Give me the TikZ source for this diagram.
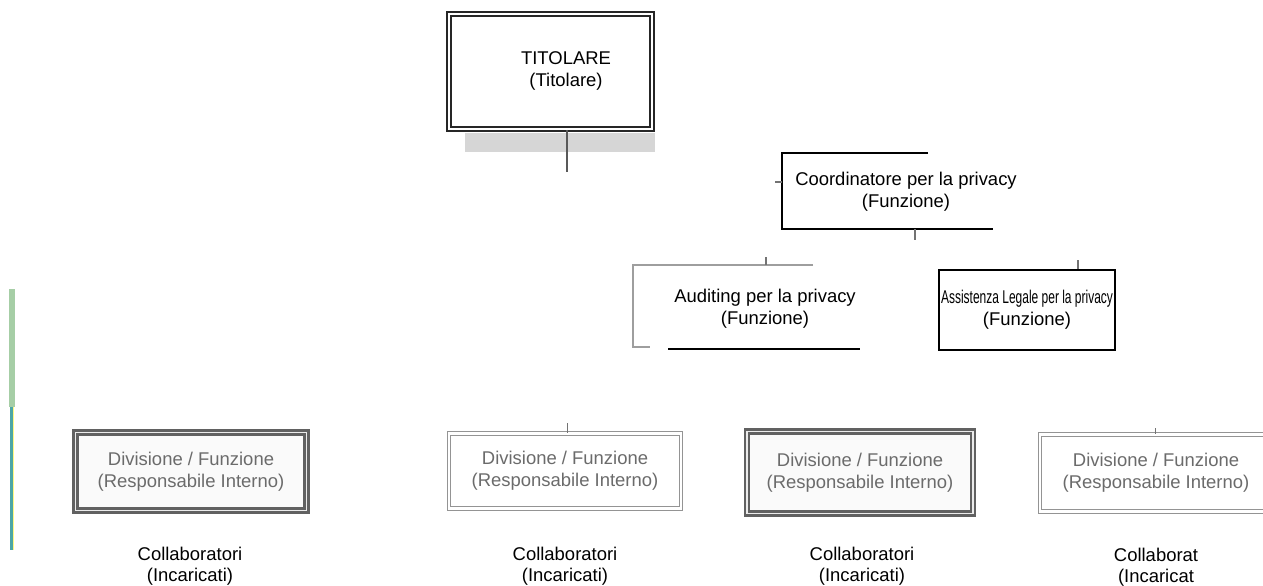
\documentclass[tikz,border=0pt]{standalone}
\usepackage{fontspec}
\setmainfont{Liberation Sans}
\usepackage{graphicx}
\usetikzlibrary{calc}

\tikzset{
  lbl/.style={align=center, font=\fontsize{10.5}{12.5}\selectfont},
  collbl/.style={align=center, font=\fontsize{10.5}{12}\selectfont, inner sep=1pt},
  divlbl/.style={lbl, text=black!58, inner sep=1pt, minimum width=4.64cm, minimum height=1.58cm},
  darkframe/.style={draw=black!62, double=black!8, double distance=0.9pt, line width=1.4pt},
  lightframe/.style={draw=black!42, double=white, double distance=1.2pt, line width=0.6pt},
  stub/.style={black!55, line width=0.6pt},
}

\begin{document}
\begin{tikzpicture}[x=0.02cm, y=-0.02cm]
  \useasboundingbox (0,0) rectangle (1263,585);

  % 1. The owner box with its shadow
  \fill[black!16] (465,133) rectangle (655,152);
  \node[draw=black!85, double, double distance=1.4pt, line width=1pt, fill=white,
        minimum width=4.06cm, minimum height=2.3cm, inner sep=0] (tit) at (550.5,71.5) {};
  \node[lbl] (titlbl) at (566,71) {TITOLARE\\(Titolare)};
  \coordinate (titend) at (567,172);
  \draw[black!65, line width=1.6pt] (tit.south -| titend) -- (titend);

  % 2. Coordinator (frame is only partly printed)
  \coordinate (coTL) at (782,153);
  \coordinate (coBL) at (782,229);
  \draw[line width=1.2pt] (928,153) -- (coTL) -- (coBL) -- (993,229);
  \node[lbl] (coord) at (906,192) {Coordinatore per la privacy\\(Funzione)};
  \coordinate (coLeft) at (775,182);
  \coordinate (coDown) at (915,240);
  \draw[stub] (coLeft) -- (coLeft -| coTL);
  \draw[stub, line width=1pt] (coDown |- coBL) -- (coDown);

  % 3. Auditing (grey corner + heavy bottom line)
  \coordinate (auTL) at (633,265);
  \coordinate (auBL) at (633,347);
  \draw[black!38, line width=1pt] (813,265) -- (auTL) -- (auBL) -- (650,347);
  \draw[line width=1.3pt] (668,349) -- (860,349);
  \node[lbl] (audit) at (765,308.5) {Auditing per la privacy\\(Funzione)};
  \coordinate (auUp) at (766,257);
  \draw[stub] (auUp) -- (auUp |- auTL);

  % 4. Legal assistance
  \node[lbl, draw, line width=1.2pt, inner sep=1pt, minimum width=3.48cm, minimum height=1.6cm]
    (asst) at (1027,310) {\scalebox{0.65}[1]{Assistenza Legale per la privacy}\\(Funzione)};
  \coordinate (asUp) at (1078,260);
  \draw[stub] (asUp) -- (asUp |- asst.north);

  % 5. Left margin strip
  \draw[green!45!black!35!white, line width=3pt] (12,289) -- (12,407);
  \draw[teal!70, line width=1.2pt] (11.5,407) -- (11.5,550);
  \draw[yellow!50, line width=0.8pt] (13.5,407) -- (13.5,550);

  % 6. Divisions
  \node[divlbl, darkframe, fill=black!2, minimum width=4.62cm, minimum height=1.56cm]
    (div1) at (191,471.5) {Divisione / Funzione\\(Responsabile Interno)};
  \node[divlbl, lightframe, fill=white, minimum height=1.5cm]
    (div2) at (565,471) {Divisione / Funzione\\(Responsabile Interno)};
  \node[divlbl, darkframe, fill=black!2, minimum width=4.52cm, minimum height=1.64cm]
    (div3) at (860,472.5) {Divisione / Funzione\\(Responsabile Interno)};
  \node[divlbl, lightframe, fill=white, minimum height=1.54cm]
    (div4) at (1156,473) {Divisione / Funzione\\(Responsabile Interno)};
  \coordinate (d2Up) at (567,423);
  \coordinate (d4Up) at (1155,428);
  \draw[stub, line width=0.4pt] (d2Up) -- (d2Up |- div2.north);
  \draw[stub, line width=0.4pt] (d4Up) -- (d4Up |- div4.north);

  % 7. Staff under each division
  \node[collbl] (col1) at (190,566) {Collaboratori\\(Incaricati)};
  \node[collbl] (col2) at (565,566) {Collaboratori\\(Incaricati)};
  \node[collbl] (col3) at (862,566) {Collaboratori\\(Incaricati)};
  \node[collbl] (col4) at (1156,567) {Collaborat\\(Incaricat};

\end{tikzpicture}
\end{document}
